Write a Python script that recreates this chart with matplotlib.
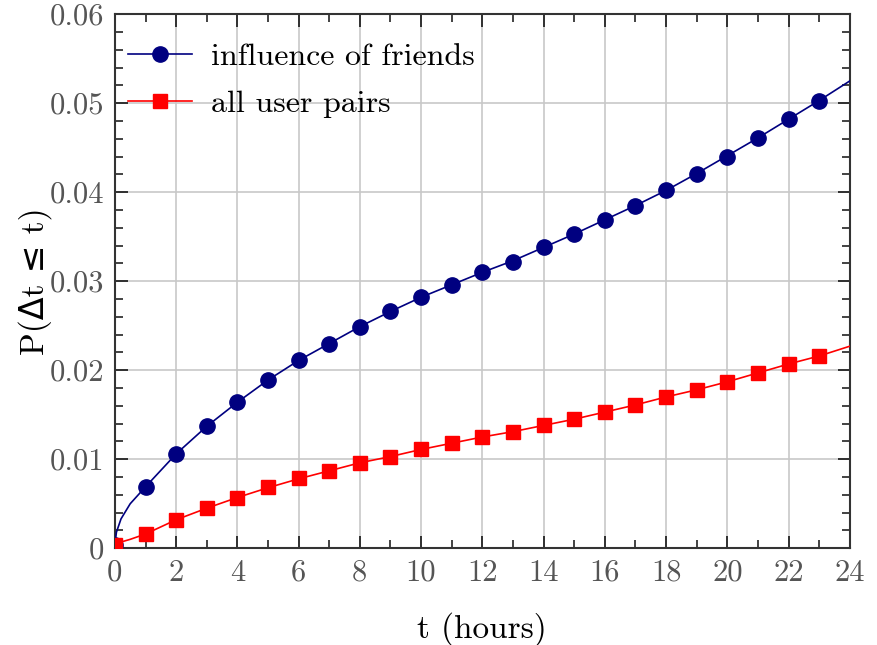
import matplotlib
matplotlib.use("Agg")
import matplotlib.pyplot as plt
from matplotlib.ticker import MultipleLocator

# hourly samples (markers)
hours = list(range(24))
friends = [0.0004, 0.0069, 0.0106, 0.0137, 0.0164, 0.0189, 0.0211, 0.0230,
           0.0249, 0.0266, 0.0282, 0.0296, 0.0310, 0.0322, 0.0339, 0.0353,
           0.0369, 0.0384, 0.0402, 0.0421, 0.0440, 0.0461, 0.0482, 0.0502]
all_pairs = [0.0004, 0.0016, 0.0032, 0.0045, 0.0057, 0.0069, 0.0079, 0.0087,
             0.0096, 0.0103, 0.0111, 0.0118, 0.0125, 0.0131, 0.0138, 0.0145,
             0.0153, 0.0161, 0.0170, 0.0178, 0.0187, 0.0197, 0.0207, 0.0216]

# fitted curves (drawn as lines)
fit_t = [0, 0.05, 0.2, 0.5, 1, 2, 3, 4, 5, 6, 7, 8, 9, 10, 11, 12, 13, 14,
         15, 16, 17, 18, 19, 20, 21, 22, 23, 24]
fit_friends = [0.0004, 0.0018, 0.0033, 0.0050, 0.0069, 0.0106, 0.0137, 0.0164,
               0.0189, 0.0211, 0.0230, 0.0249, 0.0266, 0.0282, 0.0296, 0.0310,
               0.0323, 0.0338, 0.0353, 0.0369, 0.0385, 0.0402, 0.0421, 0.0441,
               0.0461, 0.0482, 0.0503, 0.0525]
fit_pairs = [0.0004, 0.0005, 0.0007, 0.0010, 0.0016, 0.0032, 0.0045, 0.0057,
             0.0068, 0.0078, 0.0087, 0.0096, 0.0103, 0.0111, 0.0118, 0.0125,
             0.0131, 0.0138, 0.0145, 0.0153, 0.0161, 0.0170, 0.0178, 0.0187,
             0.0197, 0.0207, 0.0216, 0.0227]

x_ticks = list(range(0, 25, 2))
y_ticks = [0, 0.01, 0.02, 0.03, 0.04, 0.05, 0.06]
y_tick_labels = ["0", "0.01", "0.02", "0.03", "0.04", "0.05", "0.06"]

plt.rcParams["font.family"] = ["cmr10", "DejaVu Sans"]
plt.rcParams["axes.formatter.use_mathtext"] = True

fig = plt.figure(figsize=(8.77, 6.45), dpi=100)
ax = fig.add_axes([0.131, 0.150, 0.838, 0.828])

navy = "#000080"
red = "#ff0000"

ax.plot(fit_t, fit_friends, color=navy, linewidth=1.2, zorder=3)
ax.plot(fit_t, fit_pairs, color=red, linewidth=1.2, zorder=3)
ax.plot(hours, friends, linestyle="none", marker="o", markersize=11,
        color=navy, zorder=4)
ax.plot(hours, all_pairs, linestyle="none", marker="s", markersize=10,
        color=red, zorder=4)

# legend proxies: line with marker in the middle
ax.plot([], [], color=navy, linewidth=1.2, marker="o", markersize=11,
        label="influence of friends")
ax.plot([], [], color=red, linewidth=1.2, marker="s", markersize=10,
        label="all user pairs")
ax.legend(loc="upper left", frameon=False, fontsize=23, handlelength=2.0,
          handletextpad=0.6, labelspacing=0.58, numpoints=1,
          borderpad=0.2, borderaxespad=0.2, bbox_to_anchor=(0.0, 0.97))

ax.set_xlim(0, 24)
ax.set_ylim(0, 0.06)
ax.set_xticks(x_ticks, [str(v) for v in x_ticks])
ax.set_yticks(y_ticks, y_tick_labels)
ax.xaxis.set_minor_locator(MultipleLocator(1))
ax.yaxis.set_minor_locator(MultipleLocator(0.002))

ax.grid(which="major", color="#c8c8c8", linewidth=1.2, zorder=0)
ax.set_axisbelow(True)
ax.tick_params(which="both", direction="in", top=True, right=True,
               color="#222222", labelsize=22, labelcolor="#555555")
ax.tick_params(which="major", length=9, width=1.3, pad=8)
ax.tick_params(which="minor", length=6, width=1.2)
for s in ax.spines.values():
    s.set_color("#333333")
    s.set_linewidth(1.5)

ax.set_xlabel("t (hours)", fontsize=24, labelpad=18)
ax.set_ylabel("P(Δt ≤ t)", fontsize=24, labelpad=-2)

fig.savefig("out.png", dpi=100)
